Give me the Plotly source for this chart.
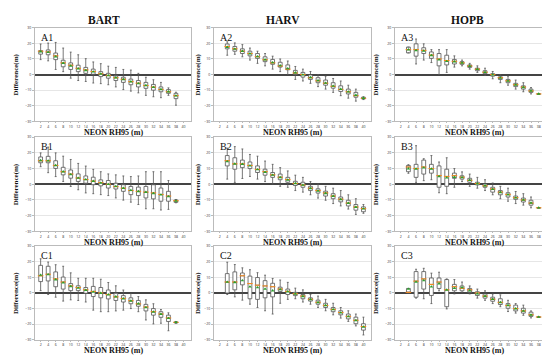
import plotly.graph_objects as go

RH95 = [2, 4, 6, 8, 10, 12, 14, 16, 18, 20, 22, 24, 26, 28, 30, 32, 34, 36, 38, 40]
SITES = ["BART", "HARV", "HOPB"]
N = None

# each row: (lower whisker, q1, median, q3, upper whisker, mean) for RH95 = 2..40
A1 = [(9.6, 13.1, 15, 15.4, 19.6, 14.7), (8.8, 12.7, 14.5, 15.8, 20.2, 14.3), (3.3, 9.6, 12, 13.8, 20.6, 11.5),
      (1.9, 5, 7.5, 9.2, 17, 7.3), (-2.3, 3.3, 6, 7.5, 14.4, 5.6), (-3.8, 1.9, 4, 6, 12.7, 3.8),
      (-4.4, 0.8, 3, 4.6, 10.2, 2.7), (-5.4, 0.2, 2, 3.5, 8.1, 1.8), (-5.8, -1.3, 0.5, 1.9, 7, 0.4),
      (-6.5, -2.3, -0.5, 0.8, 5.4, -0.6), (-7.9, -3.8, -2, -0.8, 4.6, -2), (-9.6, -5, -3, -1.7, 3.3, -3.1),
      (-10.6, -6.5, -4.5, -2.9, 2.9, -4.5), (-11.7, -7.9, -5.5, -3.8, 0.8, -5.7), (-13.3, -8.8, -7, -5, -1.7, -6.9),
      (-14.2, -10, -8, -6.3, -3.3, -8.1), (-14.8, -11, -9.5, -7.9, -5, -9.5), (-13.3, -12, -11, -9.6, -8.5, -10.9),
      (-19.6, -15.4, -13.5, -12, -11.3, -13.6), N]
A2 = [N, (12.4, 16.5, 18, 19.6, 21, 17.6), (13, 15, 16.5, 18, 20.3, 16.4),
      (11.4, 13.5, 15, 16.5, 19.2, 15), (9.3, 12, 13.5, 15, 17, 13.4), (7.2, 10.4, 11.5, 13.5, 15, 11.6),
      (5.6, 8.3, 9.5, 11.4, 13.5, 9.6), (3.5, 6.6, 7.5, 9.7, 11.8, 7.7), (1.9, 4.8, 5.5, 7.9, 10, 5.8),
      (0, 3.1, 3.5, 6.2, 8.7, 3.9), (-3.1, 0, 1, 2.7, 5.2, 1.2), (-4.1, -1.6, 0, 1.4, 3.5, -0.1),
      (-5.6, -3.1, -2, -0.2, 2, -1.8), (-7.7, -5.2, -4, -2, 0, -3.8), (-9.3, -6.8, -5.5, -3.5, -1, -5.4),
      (-11.4, -8.7, -7.5, -5.2, -2.5, -7.3), (-13.5, -10.8, -9.5, -7.2, -4.1, -9.3), (-15.1, -12.4, -11, -9.3, -6.8, -11),
      (-17, -14.5, -13.5, -11.4, -9.3, -13.2), (-16, -15.6, -15.2, -14.5, -14.2, -15.1)]
A3 = [N, (13.9, 13.9, 16, 17.6, 17.6, 16), (6.8, 11.8, 16, 19.7, 22.8, 15.5),
      (9.3, 13.5, 15.5, 17.2, 19.7, 15.2), (7.7, 10.4, 12.5, 14.5, 16, 12.3), (0, 5.6, 10, 13.5, 16, 9.5),
      (1.4, 6.2, 9, 12.4, 16, 8.5), (4.8, 6.8, 8.5, 9.7, 12, 8.3), (5.6, 6.6, 7.5, 8.3, 9.3, 7.5),
      (3.5, 4.6, 5.5, 6.2, 7.2, 5.4), (1.4, 2.5, 3.5, 4.1, 5.6, 3.4), (-0.6, 0.6, 1.5, 2.5, 4.1, 1.5),
      (-2.7, -1, 0, 0.6, 2, -0.1), (-5.2, -3.1, -2, -1.4, 0, -2.2), (-6.8, -5.2, -4, -3.1, -1, -4.1),
      (-9.3, -7.7, -6.5, -5.6, -3.5, -6.6), (-11, -9.3, -8, -7.2, -5.2, -8.2), (-12.4, -11.4, -10.5, -9.3, -8.3, -10.4),
      (-12.4, -12.4, -12.4, -12.4, -12.4, -12.4), N]
B1 = [(11.2, 13.7, 15, 17.4, 20, 15.2), (7.4, 13.7, 15, 17.8, 23.7, 15), (4.9, 10.1, 12, 15, 20, 12),
      (1.8, 6, 8, 10.8, 17.9, 8), (-1.4, 3.9, 6.5, 9.1, 15.8, 6.2), (-3.5, 1.8, 4, 6.6, 13.3, 4),
      (-5.5, 0.7, 3, 5.3, 11.6, 3), (-6, -0.3, 2, 4.5, 9.5, 2), (-6.6, -1, 1, 2.8, 8, 0.8),
      (-7.2, -2.4, 0, 2.4, 6.6, 0), (-8.7, -3, -1.5, 0.7, 6, -1.3), (-10.1, -4.5, -2.5, -0.3, 5.3, -2.5),
      (-11.4, -6.6, -4, -1.4, 4.9, -3.8), (-12.9, -7.2, -4.5, -1.8, 5.3, -4.5), (-15.6, -8.7, -5, -1.4, 8, -5),
      (-15.6, -9.3, -5.5, -0.3, 8, -5.8), (-16.4, -10.8, -6.5, -2.4, 8, -6.7), (-16, -10.8, -7.5, -4.5, 2.4, -7.8),
      (-11.8, -11.5, -10.5, -10, -9.7, -10.7), N]
B2 = [N, (3.3, 11.7, 15, 18.3, 23, 14.5), (1.2, 9.6, 13, 16.9, 24, 13),
      (3.7, 10.6, 13, 15.4, 22.5, 12.8), (5, 10, 12, 14.2, 19, 11.8), (3.3, 7.5, 9.5, 11.7, 17.9, 9.4),
      (1.7, 5.8, 8, 9.6, 14.8, 7.7), (0.2, 4.4, 6, 7.5, 12.7, 5.9), (-1.3, 2.9, 4.5, 6.5, 10.6, 4.4),
      (-1.9, 1.3, 3, 4.4, 8.5, 2.8), (-4, -0.8, 0.5, 1.9, 5.8, 0.6), (-5, -1.9, -0.5, 1.3, 4.4, -0.5),
      (-6.7, -4, -2.5, -1.3, 1.7, -2.6), (-8.8, -5.6, -4, -2.9, 0.2, -4.2), (-10.2, -7.5, -5.5, -4.4, -1.3, -5.8),
      (-12.3, -9.2, -7.5, -6, -2.5, -7.6), (-13.8, -11.2, -9.5, -8.1, -4, -9.6), (-15.8, -13.8, -12, -10.2, -6.7, -12),
      (-19.2, -16.5, -14.5, -12.9, -9.2, -14.6), (-18.5, -17.5, -15.5, -14.4, -12.9, -15.6)]
B3 = [N, (7, 8, 11, 12, 12.5, 10), (1.2, 4.4, 10, 12.7, 24.6, 9.8),
      (2.3, 6.5, 11, 15.4, 16.3, 10.5), (2.9, 7.1, 10, 12.7, 18.3, 9.8), (-5.4, -1.9, 5.5, 11.7, 14.2, 5),
      (-6, -1.3, 5, 9.6, 16.9, 4.2), (-1.9, 3.8, 5.5, 7.1, 10, 4.5), (1.7, 3.3, 4.5, 5.4, 7.9, 4.3),
      (-1.3, 1.3, 2.5, 3.8, 6.5, 2.6), (-2.5, -0.4, 0.5, 1.3, 4.4, 0.4), (-4, -1.9, -1, 0.2, 2.9, -0.9),
      (-6.7, -5, -3, -1.9, 0.8, -3.2), (-9.2, -6.7, -5, -4, -1.3, -5.2), (-10.8, -8.1, -6.5, -5.4, -2.5, -6.6),
      (-12.3, -9.6, -8.5, -7.5, -4.6, -8.6), (-13.3, -11.3, -10, -8.8, -6, -10), (-15, -13.3, -12, -10.2, -8.1, -11.9),
      (-15, -15, -15, -15, -15, -15), N]
C1 = [(1.5, 7.3, 11, 17.7, 21.9, 11.5), (-1, 7.7, 12, 17.1, 19.8, 11.8), (-2.7, 4, 9, 13.5, 18.1, 8.5),
      (-5.2, 2.5, 7, 10.2, 17.1, 6.5), (-4.4, 1.5, 4.5, 6, 12.9, 4.2), (-4.8, 1.5, 3.5, 4.6, 9.4, 3.2),
      (-5.8, -0.2, 2, 3.5, 9.4, 1.8), (-11, -2.3, 1, 4.2, 9.4, 0.6), (-12, -3.1, 0, 3.5, 8.8, -0.1),
      (-12, -3.8, -1, 1.9, 6.7, -1.1), (-11.5, -4.8, -2.5, -0.2, 4.6, -2.4), (-11, -5.8, -3.5, -1.7, 1.9, -3.6),
      (-10, -6.9, -5, -3.1, -0.2, -5.1), (-12, -8.5, -7, -4.8, -2.3, -6.8), (-17.3, -11.5, -9, -7.3, -4.4, -9.3),
      (-19.8, -14.2, -12, -10, -6.9, -12.1), (-19.4, -15.6, -13.5, -12, -10.6, -13.6), (-24.2, -18.3, -16, -14.2, -12.7, -16.2),
      (-19.4, -19.2, -18.8, -18.5, -18.3, -18.8), N]
C2 = [N, (-1, 0, 7, 12.4, 19.7, 7), (-2.5, 2, 7, 13.5, 18.2, 6.8),
      (-4.6, 5.2, 11, 12.8, 16.1, 8), (-7.2, -3.7, 6, 10.8, 14.9, 4), (-9.3, -4.1, 5, 9.9, 13, 3.5),
      (-11.4, -3.1, 4.5, 7.9, 11.4, 2.5), (-13.5, -2.5, 4, 6.2, 9.3, 1.5), (-6.6, 1, 2.5, 3.7, 8.3, 2.2),
      (-4.1, -1, 1, 2.5, 6.8, 0.8), (-3.7, -1.7, -0.5, 0.4, 3.1, -0.6), (-5.8, -3.7, -2, -1, 2, -2.2),
      (-7.2, -5.2, -4, -3.1, -1, -4.1), (-9.3, -7.2, -6, -4.6, -2, -6), (-11.4, -9.3, -8, -6.6, -4.1, -8),
      (-14, -12, -10.5, -9.3, -6.6, -10.6), (-16.1, -14, -12.5, -11.4, -9.3, -12.7), (-18.2, -16.6, -15, -13.5, -11.4, -15.1),
      (-21.1, -19.7, -17.5, -15.5, -13.5, -17.6), (-26.9, -23.8, -21.5, -19.7, -15.5, -21.7)]
C3 = [N, (0, 0, 0.4, 2.9, 2.9, 2.5), (-3.3, -2.7, 7.6, 13.7, 15.2, 7),
      (-3.7, 2.5, 9, 13.7, 15.8, 8), (-6.8, -1.6, 5.5, 9.6, 12.7, 4), (1.4, 2.9, 7, 9.6, 13.3, 6),
      (-10.2, -8.8, 2, 8.6, 9, 2), (-0.6, 1.4, 4, 5.5, 8.6, 3), (0.4, 1.4, 3, 4.5, 7, 3.5),
      (-0.6, 0.4, 2, 2.9, 4.5, 1.5), (-3.3, -1.6, 0, 0.8, 2.5, -0.5), (-4.7, -3.3, -2, -0.6, 1.4, -2),
      (-6.8, -5.3, -4, -2.7, -0.6, -4), (-8.8, -7.4, -6, -3.7, -1.2, -6), (-11.9, -9.8, -8, -6.8, -4.7, -8),
      (-12.9, -11.5, -10, -7.8, -6.8, -10), (-14.3, -12.9, -11.5, -9.8, -7.8, -11.5), (-16, -15, -14, -12.3, -11.5, -14),
      (-15.4, -15.4, -15.4, -15.4, -15.4, -15.4), N]

PANELS = [["A1", "A2", "A3"], ["B1", "B2", "B3"], ["C1", "C2", "C3"]]
DATA = {"A1": A1, "A2": A2, "A3": A3, "B1": B1, "B2": B2, "B3": B3, "C1": C1, "C2": C2, "C3": C3}

W, H = 550, 355
COLS = [(27, 183), (206, 363), (387, 546)]
ROWS = [(17, 112), (128, 223.5), (238.5, 333.5)]
TITLE_X = [96, 275, 460]
YLAB_X = [8, 190, 368]

def px_x(x):
    return x / W

def px_y(y):
    return 1 - y / H

fig = go.Figure()
layout = dict(width=W, height=H, margin=dict(l=0, r=0, t=0, b=0), showlegend=False,
              paper_bgcolor="white", plot_bgcolor="white", annotations=[])
serif = "Liberation Serif, Times New Roman, serif"

k = 0
for r in range(3):
    for c in range(3):
        k += 1
        name = PANELS[r][c]
        rows = DATA[name]
        xs = [RH95[i] for i, v in enumerate(rows) if v is not None]
        st = [v for v in rows if v is not None]
        xa = "x" if k == 1 else f"x{k}"
        ya = "y" if k == 1 else f"y{k}"
        fig.add_trace(go.Box(
            x=xs, lowerfence=[s[0] for s in st], q1=[s[1] for s in st], median=[s[2] for s in st],
            q3=[s[3] for s in st], upperfence=[s[4] for s in st],
            width=1.0, whiskerwidth=0.5, fillcolor="white",
            line=dict(color="#555555", width=0.8), xaxis=xa, yaxis=ya, hoverinfo="skip"))
        fig.add_trace(go.Scatter(
            x=xs, y=[s[2] for s in st], mode="markers", xaxis=xa, yaxis=ya,
            marker=dict(symbol="line-ew", size=4, line=dict(color="#ff8c1a", width=1))))
        fig.add_trace(go.Scatter(
            x=xs, y=[s[5] for s in st], mode="markers", xaxis=xa, yaxis=ya,
            marker=dict(symbol="triangle-up", size=3.2, color="#2ca02c", line=dict(width=0))))
        x0, x1 = COLS[c]
        y0, y1 = ROWS[r]
        sfx = "" if k == 1 else str(k)
        layout["xaxis" + sfx] = dict(domain=[px_x(x0), px_x(x1)], range=[0.5, 42], anchor=ya,
                                     tickmode="array", tickvals=RH95, ticktext=[str(v) for v in RH95],
                                     tickfont=dict(size=3.5, color="#333"), showgrid=False, zeroline=False,
                                     showline=True, mirror=True, linecolor="#bbbbbb", linewidth=1,
                                     ticks="outside", ticklen=1, tickcolor="#bbbbbb", tickwidth=0.5)
        layout["yaxis" + sfx] = dict(domain=[px_y(y1), px_y(y0)], range=[-30, 30], anchor=xa,
                                     tickvals=[-30, -20, -10, 0, 10, 20, 30],
                                     tickfont=dict(size=3.5, color="#333"), showgrid=True, gridcolor="#e6e6e6",
                                     gridwidth=0.6, zeroline=True, zerolinecolor="#444444", zerolinewidth=1.5,
                                     showline=True, mirror=True, linecolor="#bbbbbb", linewidth=1,
                                     ticks="outside", ticklen=2, tickcolor="#bbbbbb", tickwidth=0.5)
        layout["annotations"].append(dict(
            text=name, x=px_x(x0 + 4), y=px_y(y0 + 2), xref="paper", yref="paper",
            xanchor="left", yanchor="top", showarrow=False, font=dict(family=serif, size=10, color="#111")))
        layout["annotations"].append(dict(
            text="<b>NEON RH95 (m)</b>", x=px_x((x0 + x1) / 2), y=px_y(y1 + 11), xref="paper", yref="paper",
            xanchor="center", yanchor="middle", showarrow=False, borderpad=0,
            font=dict(family=serif, size=8, color="#111")))
        layout["annotations"].append(dict(
            text="<b>Difference(m)</b>", x=px_x(YLAB_X[c]), y=px_y((y0 + y1) / 2), xref="paper", yref="paper",
            xanchor="center", yanchor="middle", textangle=-90, showarrow=False,
            font=dict(family=serif, size=7, color="#111")))

for c in range(3):
    layout["annotations"].append(dict(
        text="<b>" + SITES[c] + "</b>", x=px_x(TITLE_X[c]), y=px_y(9), xref="paper", yref="paper",
        xanchor="center", yanchor="middle", showarrow=False, font=dict(family=serif, size=11.5, color="#111")))

fig.update_layout(**layout)
fig.write_html("out.html")
